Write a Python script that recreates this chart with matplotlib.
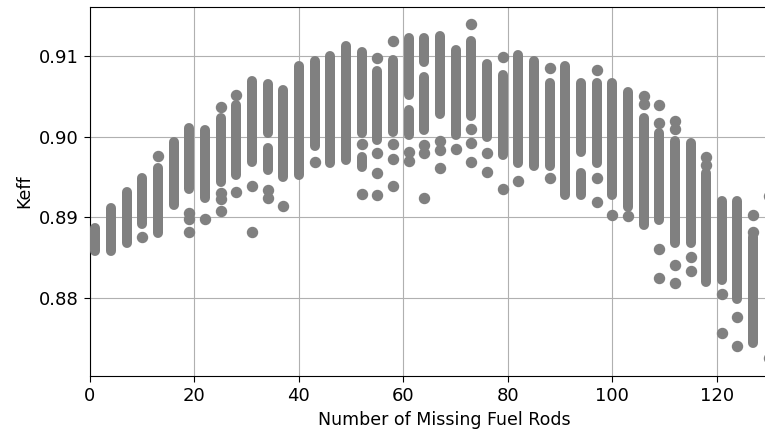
from matplotlib import pyplot as plt

# number of missing rods for each vertical band of Keff results
band_rods = [1, 4, 7, 10, 13, 16, 19, 22, 25, 28, 31, 34, 34, 37, 40, 43, 46, 49,
             52, 52, 55, 58, 61, 61, 64, 64, 67, 70, 73, 76, 79, 82, 85, 88, 91,
             94, 94, 97, 100, 103, 106, 109, 112, 115, 118, 121, 124, 127, 130]
band_low = [0.8858, 0.8858, 0.8868, 0.8891, 0.8880, 0.8915, 0.8935, 0.8924, 0.8944,
            0.8952, 0.8969, 0.9004, 0.8959, 0.8950, 0.8952, 0.8988, 0.8967, 0.8971,
            0.9004, 0.8962, 0.8996, 0.9006, 0.9052, 0.9002, 0.9093, 0.9008, 0.9028,
            0.9002, 0.9025, 0.9000, 0.8977, 0.8967, 0.8963, 0.8963, 0.8928, 0.8981,
            0.8928, 0.8967, 0.8928, 0.8913, 0.8890, 0.8897, 0.8868, 0.8868, 0.8820,
            0.8822, 0.8798, 0.8744, 0.8755]
band_high = [0.8886, 0.8911, 0.8931, 0.8948, 0.8961, 0.8993, 0.9010, 0.9008, 0.9023,
             0.9039, 0.9069, 0.9065, 0.8986, 0.9058, 0.9087, 0.9094, 0.9100, 0.9112,
             0.9105, 0.8974, 0.9081, 0.9095, 0.9122, 0.9033, 0.9122, 0.9074, 0.9125,
             0.9108, 0.9118, 0.9090, 0.9076, 0.9101, 0.9094, 0.9066, 0.9088, 0.9066,
             0.8955, 0.9067, 0.9066, 0.9055, 0.9023, 0.9004, 0.8994, 0.8992, 0.8955,
             0.8920, 0.8920, 0.8875, 0.8884]

# isolated results
dot_rods = [10, 13, 19, 19, 19, 22, 25, 25, 25, 25, 28, 28, 31, 31, 34, 34, 37, 43,
            52, 52, 55, 55, 55, 55, 58, 58, 58, 58, 61, 61, 64, 64, 64, 67, 67, 67,
            70, 73, 73, 73, 73, 76, 76, 79, 79, 82, 88, 88, 97, 97, 97, 100, 103,
            106, 106, 109, 109, 109, 109, 112, 112, 112, 112, 115, 115, 118, 118,
            121, 121, 124, 124, 127, 127, 130, 130]
dot_keff = [0.8875, 0.8976, 0.8905, 0.8898, 0.8882, 0.8898, 0.9037, 0.8930, 0.8922,
            0.8907, 0.9051, 0.8931, 0.8939, 0.8881, 0.8934, 0.8924, 0.8914, 0.8969,
            0.8991, 0.8929, 0.9097, 0.8979, 0.8955, 0.8928, 0.9118, 0.8991, 0.8972,
            0.8939, 0.8981, 0.8970, 0.8989, 0.8979, 0.8924, 0.8994, 0.8983, 0.8961,
            0.8984, 0.9140, 0.9009, 0.8992, 0.8968, 0.8979, 0.8956, 0.9099, 0.8935,
            0.8945, 0.9085, 0.8948, 0.9082, 0.8948, 0.8919, 0.8903, 0.8901,
            0.9050, 0.9040, 0.9039, 0.9017, 0.8860, 0.8824, 0.9019, 0.9009, 0.8841,
            0.8818, 0.8851, 0.8833, 0.8974, 0.8965,
            0.8804, 0.8756, 0.8776, 0.8740, 0.8903, 0.8881, 0.8926, 0.8725]

x_ticks = [0, 20, 40, 60, 80, 100, 120]
y_ticks = [0.88, 0.89, 0.90, 0.91]

fig = plt.figure(figsize=(7.65, 4.32), dpi=100)
# axes runs past the right edge of the figure, like the cropped original
ax = fig.add_axes([0.1176, 0.1296, 0.9270, 0.8535])

ax.vlines(band_rods, band_low, band_high, colors='gray', linewidth=7.2,
          capstyle='round', zorder=3)
ax.scatter(dot_rods, dot_keff, s=52, c='gray', zorder=3)

ax.set_xlim(0, 135.8)
ax.set_ylim(0.87028, 0.91604)
ax.set_xticks(x_ticks)
ax.set_yticks(y_ticks)
ax.set_yticklabels(['%.2f' % t for t in y_ticks])
ax.tick_params(length=4.5, labelsize=13)
ax.grid(True, color='#b0b0b0', linewidth=0.8)
ax.set_axisbelow(True)
ax.set_xlabel("Number of Missing Fuel Rods", fontsize=12.5)
ax.set_ylabel("Keff", fontsize=12.5)

fig.savefig("out.png", dpi=100)
